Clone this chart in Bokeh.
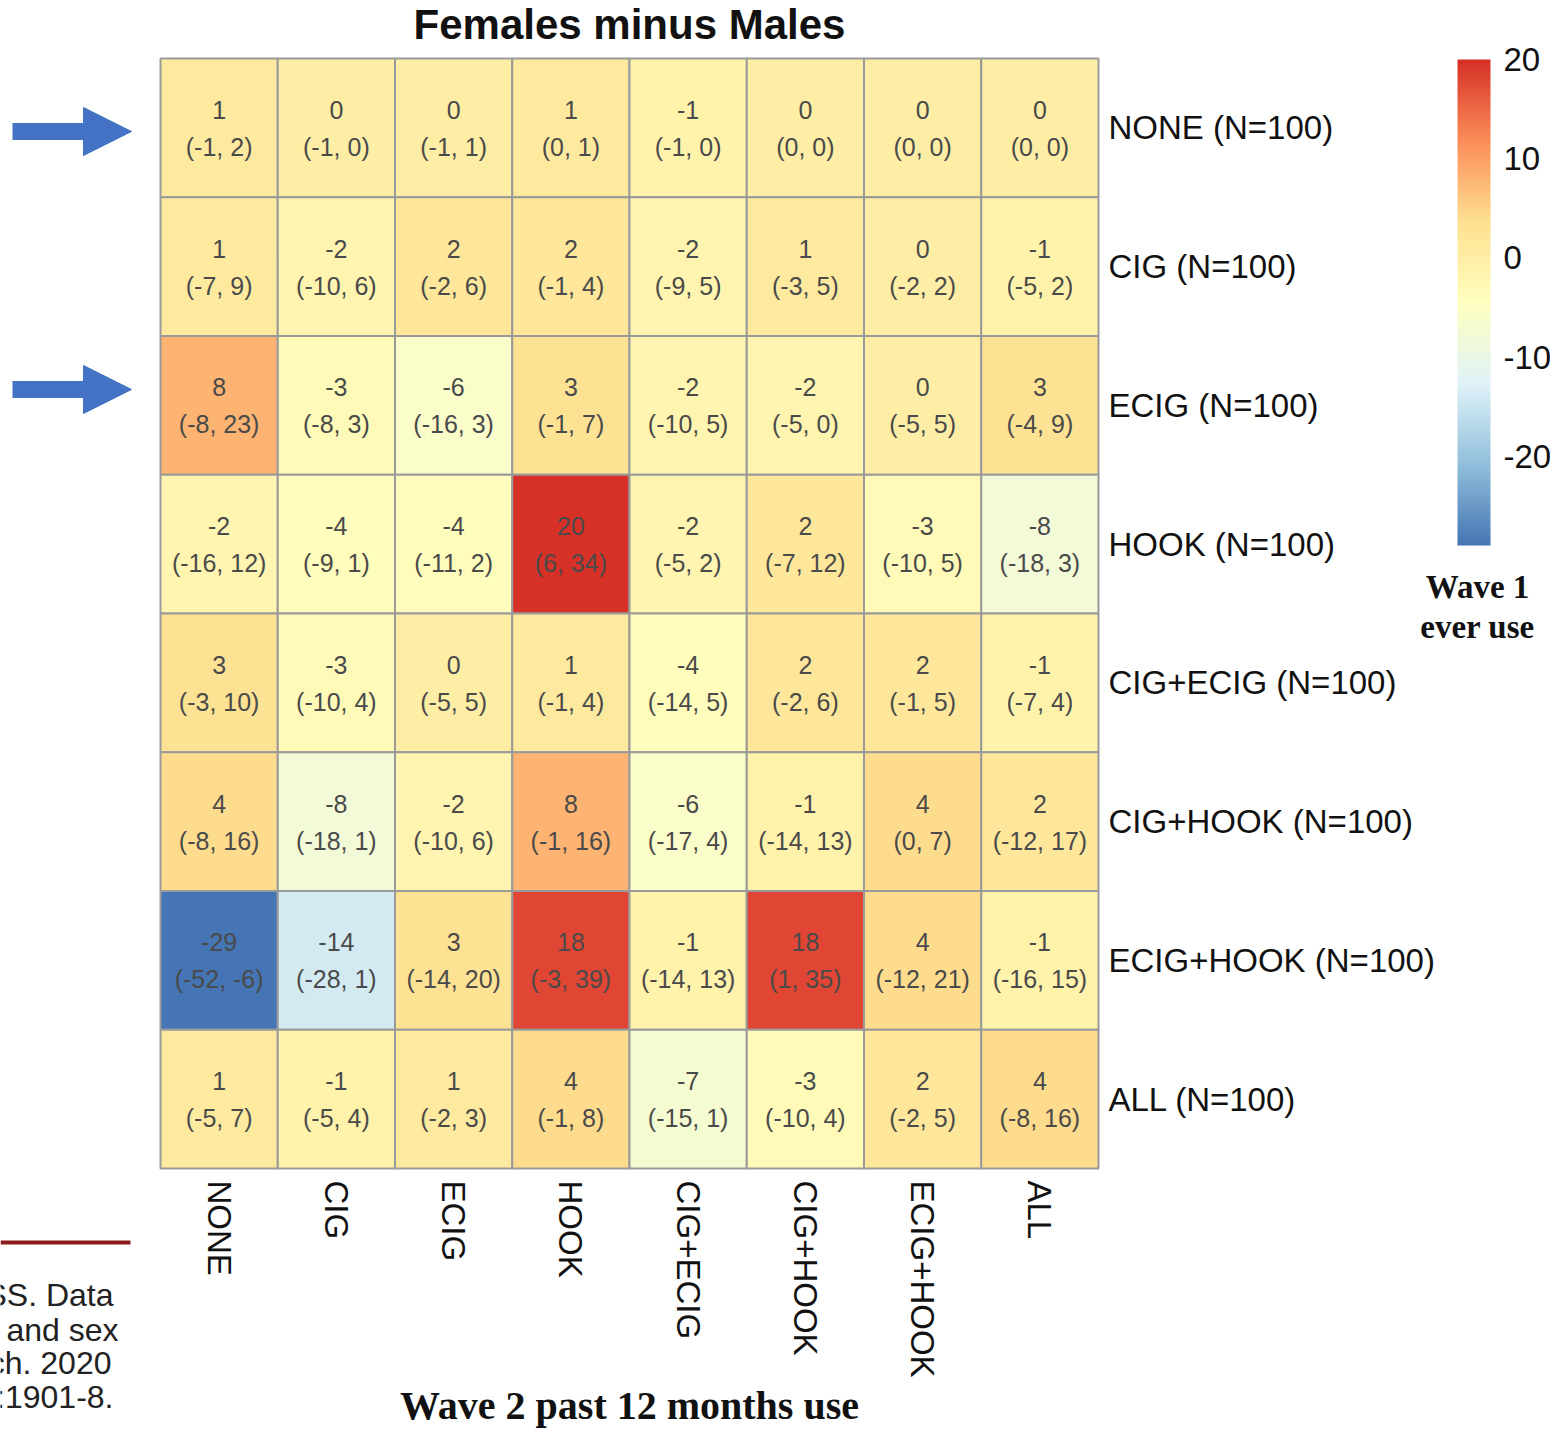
import math
import numpy as np
from bokeh.plotting import figure
from bokeh.models import (ColumnDataSource, LinearColorMapper, ColorBar, FixedTicker,
                          Arrow, NormalHead, Range1d)
from bokeh.transform import transform
from bokeh.embed import file_html
from bokeh.resources import INLINE
from bokeh.core.properties import value

# Wave 2 (columns) and Wave 1 (rows) tobacco-use groups
wave2_groups = ["NONE", "CIG", "ECIG", "HOOK", "CIG+ECIG", "CIG+HOOK", "ECIG+HOOK", "ALL"]
wave1_groups = ["NONE", "CIG", "ECIG", "HOOK", "CIG+ECIG", "CIG+HOOK", "ECIG+HOOK", "ALL"]
wave1_n = [100, 100, 100, 100, 100, 100, 100, 100]

# Females minus males difference (rows = wave 1 group, cols = wave 2 group)
diff = [
    [1, 0, 0, 1, -1, 0, 0, 0],
    [1, -2, 2, 2, -2, 1, 0, -1],
    [8, -3, -6, 3, -2, -2, 0, 3],
    [-2, -4, -4, 20, -2, 2, -3, -8],
    [3, -3, 0, 1, -4, 2, 2, -1],
    [4, -8, -2, 8, -6, -1, 4, 2],
    [-29, -14, 3, 18, -1, 18, 4, -1],
    [1, -1, 1, 4, -7, -3, 2, 4],
]
ci_low = [
    [-1, -1, -1, 0, -1, 0, 0, 0],
    [-7, -10, -2, -1, -9, -3, -2, -5],
    [-8, -8, -16, -1, -10, -5, -5, -4],
    [-16, -9, -11, 6, -5, -7, -10, -18],
    [-3, -10, -5, -1, -14, -2, -1, -7],
    [-8, -18, -10, -1, -17, -14, 0, -12],
    [-52, -28, -14, -3, -14, 1, -12, -16],
    [-5, -5, -2, -1, -15, -10, -2, -8],
]
ci_high = [
    [2, 0, 1, 1, 0, 0, 0, 0],
    [9, 6, 6, 4, 5, 5, 2, 2],
    [23, 3, 3, 7, 5, 0, 5, 9],
    [12, 1, 2, 34, 2, 12, 5, 3],
    [10, 4, 5, 4, 5, 6, 5, 4],
    [16, 1, 6, 16, 4, 13, 7, 17],
    [-6, 1, 20, 39, 13, 35, 21, 15],
    [7, 4, 3, 8, 1, 4, 5, 16],
]
colorbar_ticks = [-20, -10, 0, 10, 20]

# Page geometry (pixels): heatmap block and cell size
W, H = 1550, 1430
GRID_LEFT, GRID_TOP = 160, 58
CELL_W, CELL_H = 117.25, 138.75
n_cols, n_rows = len(wave2_groups), len(wave1_groups)


def px_x(px):
    """Page x pixel -> column units."""
    return (px - GRID_LEFT) / CELL_W


def px_y(py):
    """Page y pixel -> row units (rows grow downwards)."""
    return (py - GRID_TOP) / CELL_H


# Reversed RdYlBu ramp, blue (low) to red (high)
ramp = ["#4575b4", "#91bfdb", "#e0f3f8", "#ffffbf", "#fee090", "#fc8d59", "#d73027"]
rgb = np.array([[int(c[i:i + 2], 16) for i in (1, 3, 5)] for c in ramp], dtype=float)
t = np.linspace(0, 1, 256)
pos = np.linspace(0, 1, len(ramp))
palette = ["#%02x%02x%02x" % tuple(int(round(np.interp(v, pos, rgb[:, k]))) for k in range(3))
           for v in t]

flat_vals = [v for r in diff for v in r]
mapper = LinearColorMapper(palette=palette, low=min(flat_vals), high=max(flat_vals))

xs, ys, vals, val_txt, ci_txt = [], [], [], [], []
for i in range(n_rows):
    for j in range(n_cols):
        xs.append(j + 0.5)
        ys.append(i + 0.5)
        vals.append(diff[i][j])
        val_txt.append(str(diff[i][j]))
        ci_txt.append(f"({ci_low[i][j]}, {ci_high[i][j]})")
src = ColumnDataSource(dict(x=xs, y=ys, v=vals, vt=val_txt, ct=ci_txt))

SANS = "Liberation Sans"
SERIF = "Liberation Serif"

p = figure(width=W, height=H,
           x_range=Range1d(px_x(0), px_x(W)),
           y_range=Range1d(px_y(H), px_y(0)),
           output_backend="svg", toolbar_location=None,
           min_border=0, min_border_left=0, min_border_right=0,
           min_border_top=0, min_border_bottom=0)
p.axis.visible = False
p.grid.visible = False
p.outline_line_color = None
p.background_fill_color = "white"
p.border_fill_color = "white"

# Heatmap cells
p.rect(x="x", y="y", width=1, height=1, source=src,
       fill_color=transform("v", mapper), line_color="#9a9a9a", line_width=2)

cell_text = dict(text_align="center", text_baseline="middle", text_font=value(SANS),
                 text_font_size="25px", text_color="#4a4a4a")
p.text(x="x", y="y", text="vt", y_offset=-18, source=src, **cell_text)
p.text(x="x", y="y", text="ct", y_offset=19, source=src, **cell_text)

# Row labels on the right of the grid
row_labels = [f"{g} (N={n})" for g, n in zip(wave1_groups, wave1_n)]
p.text(x=[n_cols] * n_rows, y=[i + 0.5 for i in range(n_rows)], text=row_labels,
       x_offset=10, text_align="left", text_baseline="middle",
       text_font=value(SANS), text_font_size="33px", text_color="#111111")

# Column labels below the grid, reading downwards
p.text(x=[j + 0.5 for j in range(n_cols)], y=[n_rows] * n_cols, text=wave2_groups,
       y_offset=12, angle=-math.pi / 2, text_align="left", text_baseline="middle",
       text_font=value(SANS), text_font_size="33px", text_color="#111111")

# Title and x-axis caption
p.text(x=[n_cols / 2], y=[px_y(24)], text=["Females minus Males"],
       text_align="center", text_baseline="middle",
       text_font=value(SANS), text_font_style="bold", text_font_size="42px",
       text_color="#111111")
p.text(x=[n_cols / 2], y=[px_y(1405)], text=["Wave 2 past 12 months use"],
       text_align="center", text_baseline="middle",
       text_font=value(SERIF), text_font_style="bold", text_font_size="40px",
       text_color="#111111")

# Colour bar with its caption underneath
cb = ColorBar(color_mapper=mapper, ticker=FixedTicker(ticks=colorbar_ticks),
              major_label_overrides={t_: str(t_) for t_ in colorbar_ticks},
              width=33, height=486, location=(1457, H - 545),
              padding=0, margin=0, label_standoff=13,
              major_tick_line_color=None, minor_tick_line_color=None,
              bar_line_color=None, border_line_color=None,
              background_fill_alpha=0,
              major_label_text_font=SANS, major_label_text_font_size="33px",
              major_label_text_color="#111111")
p.add_layout(cb, "center")

p.text(x=[px_x(1477)] * 2, y=[px_y(586), px_y(626)], text=["Wave 1", "ever use"],
       text_align="center", text_baseline="middle",
       text_font=value(SERIF), text_font_style="bold", text_font_size="33px",
       text_color="#111111")

# Left margin: pointer arrows at two rows, a rule and the edge of a caption
arrow_blue = "#4472c4"
for ay in (131, 389):
    p.add_layout(Arrow(x_start=px_x(12), y_start=px_y(ay), x_end=px_x(131), y_end=px_y(ay),
                       line_color=arrow_blue, line_width=17, line_cap="butt",
                       end=NormalHead(size=48, fill_color=arrow_blue,
                                      line_color=arrow_blue, line_width=1)))

p.segment(x0=[px_x(0)], y0=[px_y(1242)], x1=[px_x(130)], y1=[px_y(1242)],
          line_color="#8b1a1a", line_width=4)
p.text(x=[px_x(113), px_x(118), px_x(111), px_x(113)],
       y=[px_y(1294), px_y(1329), px_y(1362), px_y(1396)],
       text=["SS. Data", "and sex", "ch. 2020", ":1901-8."],
       text_align="right", text_baseline="middle", text_font=value(SANS),
       text_font_size="32px", text_color="#222222")

with open("out.html", "w") as f:
    f.write(file_html(p, INLINE))
